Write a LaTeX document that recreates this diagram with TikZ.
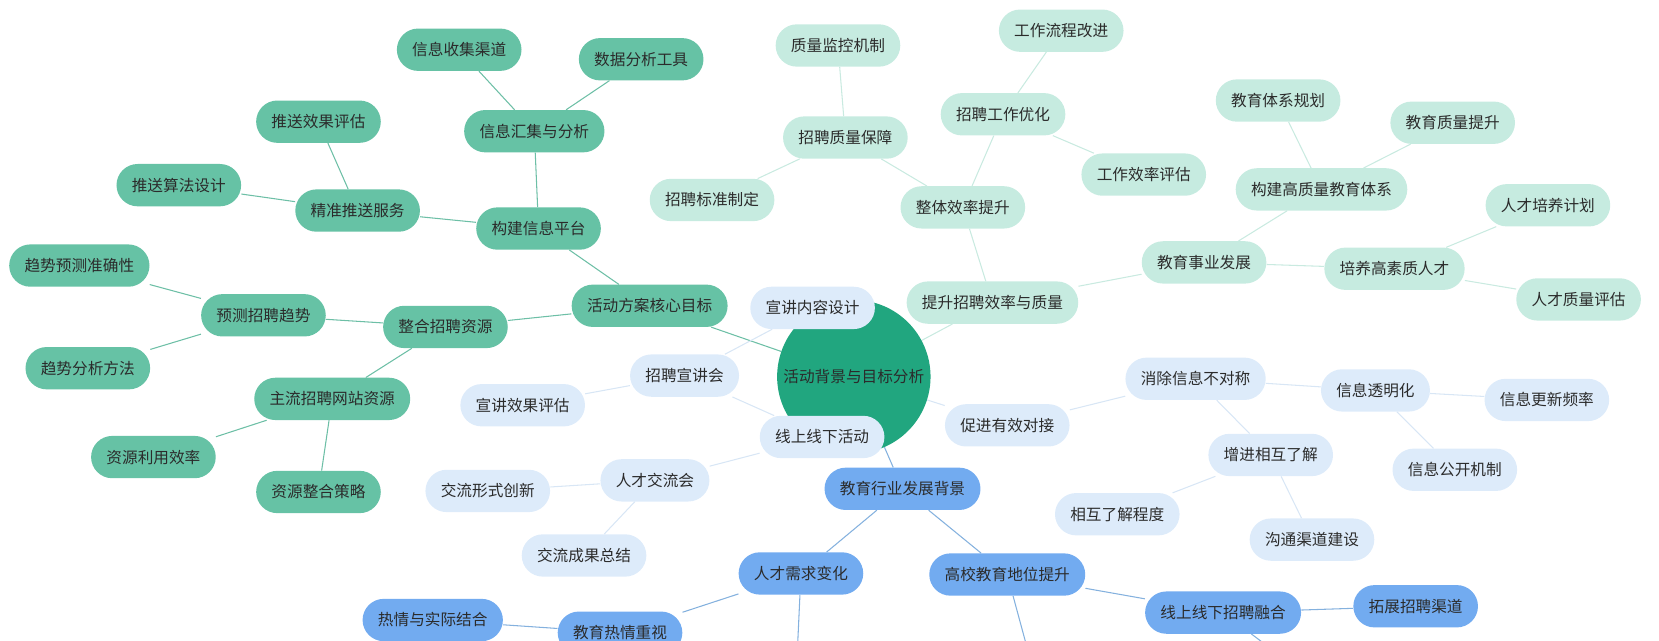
\documentclass[tikz,border=0pt]{standalone}
\usepackage{fontspec}
\newfontfamily\cjk{Noto Sans CJK SC}
\usepackage{tikz}
\usetikzlibrary{backgrounds}

\definecolor{hub}{HTML}{21A67F}
\definecolor{gfill}{HTML}{66C2A5}
\definecolor{gline}{HTML}{6DBFA6}
\definecolor{mfill}{HTML}{C6EBE0}
\definecolor{mline}{HTML}{C9EAE0}
\definecolor{lfill}{HTML}{DDEBFA}
\definecolor{lline}{HTML}{D8E6F5}
\definecolor{bfill}{HTML}{72ABF0}
\definecolor{bline}{HTML}{84B1DE}
\definecolor{ink}{HTML}{2B2B2B}

\begin{document}
\begin{tikzpicture}[x=1pt,y=-1pt,
	every node/.style={font=\cjk\fontsize{14.8}{17}\selectfont,text=ink},
	topic/.style={rounded corners=20pt,minimum height=40pt,inner xsep=14.5pt,inner ysep=0pt},
	hubnode/.style={circle,fill=hub,minimum size=145pt,inner sep=0pt},
	gnode/.style={topic,fill=gfill},
	mnode/.style={topic,fill=mfill},
	lnode/.style={topic,fill=lfill},
	bnode/.style={topic,fill=bfill},
	gedge/.style={draw=gline,line width=1pt},
	medge/.style={draw=mline,line width=1pt},
	ledge/.style={draw=lline,line width=1pt},
	bedge/.style={draw=bline,line width=1pt}]
\useasboundingbox	(0,0) rectangle (1568,605);
\clip			(0,0) rectangle (1568,605);

\node[hubnode]	(c_0)	at (807,356)	{活动背景与目标分析};

% green branch
\node[gnode]	(g_1)	at (614,289)	{活动方案核心目标};
\node[gnode]	(g_2)	at (509,216)	{构建信息平台};
\node[gnode]	(g_3)	at (505,124)	{信息汇集与分析};
\node[gnode]	(g_4)	at (434,47)	{信息收集渠道};
\node[gnode]	(g_5)	at (606,56)	{数据分析工具};
\node[gnode]	(g_6)	at (338,199)	{精准推送服务};
\node[gnode]	(g_7)	at (301,115)	{推送效果评估};
\node[gnode]	(g_8)	at (169,175)	{推送算法设计};
\node[gnode]	(g_9)	at (421,309)	{整合招聘资源};
\node[gnode]	(g_10)	at (249,298)	{预测招聘趋势};
\node[gnode]	(g_11)	at (75,251)	{趋势预测准确性};
\node[gnode]	(g_12)	at (83,348)	{趋势分析方法};
\node[gnode]	(g_13)	at (314,377)	{主流招聘网站资源};
\node[gnode]	(g_14)	at (145,432)	{资源利用效率};
\node[gnode]	(g_15)	at (301,465)	{资源整合策略};

% mint branch
\node[mnode]	(m_1)	at (938,286)	{提升招聘效率与质量};
\node[mnode]	(m_2)	at (910,196)	{整体效率提升};
\node[mnode]	(m_3)	at (799,130)	{招聘质量保障};
\node[mnode]	(m_4)	at (792,43)	{质量监控机制};
\node[mnode]	(m_5)	at (673,189)	{招聘标准制定};
\node[mnode]	(m_6)	at (948,108)	{招聘工作优化};
\node[mnode]	(m_7)	at (1003,29)	{工作流程改进};
\node[mnode]	(m_8)	at (1081,165)	{工作效率评估};
\node[mnode]	(m_9)	at (1138,248)	{教育事业发展};
\node[mnode]	(m_10)	at (1249,179)	{构建高质量教育体系};
\node[mnode]	(m_11)	at (1208,95)	{教育体系规划};
\node[mnode]	(m_12)	at (1373,116)	{教育质量提升};
\node[mnode]	(m_13)	at (1318,254)	{培养高素质人才};
\node[mnode]	(m_14)	at (1463,194)	{人才培养计划};
\node[mnode]	(m_15)	at (1492,283)	{人才质量评估};

% light blue branch
\node[lnode]	(l_1)	at (952,402)	{促进有效对接};
\node[lnode]	(l_2)	at (1130,358)	{消除信息不对称};
\node[lnode]	(l_3)	at (1300,369)	{信息透明化};
\node[lnode]	(l_4)	at (1462,378)	{信息更新频率};
\node[lnode]	(l_5)	at (1375,444)	{信息公开机制};
\node[lnode]	(l_6)	at (1201,430)	{增进相互了解};
\node[lnode]	(l_7)	at (1056,486)	{相互了解程度};
\node[lnode]	(l_8)	at (1240,510)	{沟通渠道建设};
\node[lnode]	(l_9)	at (777,413)	{线上线下活动};
\node[lnode]	(l_10)	at (619,454)	{人才交流会};
\node[lnode]	(l_11)	at (461,464)	{交流形式创新};
\node[lnode]	(l_12)	at (552,525)	{交流成果总结};
\node[lnode]	(l_13)	at (647,355)	{招聘宣讲会};
\node[lnode]	(l_14)	at (494,383)	{宣讲效果评估};
\node[lnode]	(l_15)	at (768,291)	{宣讲内容设计};

% blue branch
\node[bnode]	(b_1)	at (853,462)	{教育行业发展背景};
\node[bnode]	(b_2)	at (757,542)	{人才需求变化};
\node[bnode]	(b_3)	at (952,543)	{高校教育地位提升};
\node[bnode]	(b_4)	at (586,598)	{教育热情重视};
\node[bnode]	(b_5)	at (409,586)	{热情与实际结合};
\node[bnode]	(b_6)	at (1156,579)	{线上线下招聘融合};
\node[bnode]	(b_7)	at (1338,573)	{拓展招聘渠道};
\coordinate	(b_8)	at (752,650);
\coordinate	(b_9)	at (981,650);
\coordinate	(b_10)	at (1250,650);

\begin{scope}[on background layer]
\clip (0,0) rectangle (1568,605);
\path[gedge]	(c_0)	edge (g_1)
		(g_1)	edge (g_2)	edge (g_9)
		(g_2)	edge (g_3)	edge (g_6)
		(g_3)	edge (g_4)	edge (g_5)
		(g_6)	edge (g_7)	edge (g_8)
		(g_9)	edge (g_10)	edge (g_13)
		(g_10)	edge (g_11)	edge (g_12)
		(g_13)	edge (g_14)	edge (g_15);
\path[medge]	(c_0)	edge (m_1)
		(m_1)	edge (m_2)	edge (m_9)
		(m_2)	edge (m_3)	edge (m_6)
		(m_3)	edge (m_4)	edge (m_5)
		(m_6)	edge (m_7)	edge (m_8)
		(m_9)	edge (m_10)	edge (m_13)
		(m_10)	edge (m_11)	edge (m_12)
		(m_13)	edge (m_14)	edge (m_15);
\path[ledge]	(c_0)	edge (l_1)	edge (l_9)
		(l_1)	edge (l_2)
		(l_2)	edge (l_3)	edge (l_6)
		(l_3)	edge (l_4)	edge (l_5)
		(l_6)	edge (l_7)	edge (l_8)
		(l_9)	edge (l_10)	edge (l_13)
		(l_10)	edge (l_11)	edge (l_12)
		(l_13)	edge (l_14)	edge (l_15);
\path[bedge]	(c_0)	edge (b_1)
		(b_1)	edge (b_2)	edge (b_3)
		(b_2)	edge (b_4)	edge (b_8)
		(b_4)	edge (b_5)
		(b_3)	edge (b_6)	edge (b_9)
		(b_6)	edge (b_7)	edge (b_10);
\end{scope}
\end{tikzpicture}
\end{document}
